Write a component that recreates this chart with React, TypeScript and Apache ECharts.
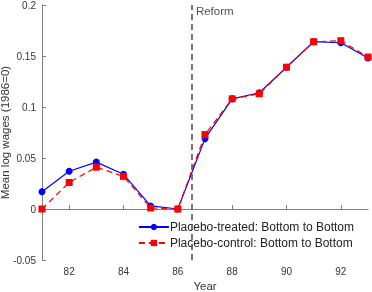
import React, { useEffect, useRef } from "react";
import * as echarts from "echarts";

const years = [81, 82, 83, 84, 85, 86, 87, 88, 89, 90, 91, 92, 93];
const treated = [0.017, 0.037, 0.046, 0.034, 0.003, 0.0, 0.069, 0.108, 0.114, 0.139, 0.164, 0.163, 0.148];
const control = [0.0, 0.026, 0.041, 0.032, 0.001, 0.0, 0.073, 0.108, 0.113, 0.139, 0.164, 0.165, 0.149];
const xTicks = [82, 84, 86, 88, 90, 92];
const reformYear = 86.5;
const seriesNames = ["Placebo-treated: Bottom to Bottom", "Placebo-control: Bottom to Bottom"];

export default function App() {
  const ref = useRef<HTMLDivElement>(null);
  useEffect(() => {
    if (!ref.current) return;
    const chart = echarts.init(ref.current, undefined, { renderer: "svg" });
    const font = "'Liberation Sans', Arial, sans-serif";
    const axisColor = "#808080";
    chart.setOption({
      animation: false,
      textStyle: { fontFamily: font },
      grid: { left: 42, right: 4, top: 5, bottom: 32, containLabel: false, outerBoundsMode: "none" },
      legend: {
        orient: "vertical",
        right: 13,
        bottom: 38,
        itemWidth: 30,
        itemHeight: 8,
        itemGap: 4,
        textStyle: { fontSize: 12, color: "#222", fontFamily: font, padding: [0, 0, 0, -4] },
        data: seriesNames,
      },
      xAxis: {
        type: "value",
        min: 81,
        max: 93,
        name: "Year",
        nameLocation: "middle",
        nameGap: 20,
        nameMoveOverlap: false,
        nameTextStyle: { fontSize: 11.5, color: "#333" },
        axisLine: { lineStyle: { color: axisColor } },
        axisTick: { inside: true, length: 4, customValues: xTicks, lineStyle: { color: axisColor } },
        axisLabel: { customValues: xTicks, fontSize: 10, color: "#333", margin: 6 },
        splitLine: { show: false },
      },
      yAxis: {
        type: "value",
        min: -0.05,
        max: 0.2,
        interval: 0.05,
        name: "Mean log wages (1986=0)",
        nameLocation: "middle",
        nameGap: 31,
        nameMoveOverlap: false,
        nameTextStyle: { fontSize: 11.5, color: "#333" },
        axisLine: { show: true, lineStyle: { color: axisColor } },
        axisTick: { show: true, inside: true, length: 4, lineStyle: { color: axisColor } },
        axisLabel: { fontSize: 10, color: "#333", margin: 6 },
        splitLine: { show: false },
      },
      series: [
        {
          name: seriesNames[0],
          type: "line",
          data: years.map((y, i) => [y, treated[i]]),
          symbol: "circle",
          symbolSize: 7,
          itemStyle: { color: "#0000ff" },
          lineStyle: { color: "#0000ff", width: 1.2 },
          z: 2,
        },
        {
          name: seriesNames[1],
          type: "line",
          data: years.map((y, i) => [y, control[i]]),
          symbol: "rect",
          symbolSize: 7,
          itemStyle: { color: "#ff0000" },
          lineStyle: { color: "#ff0000", width: 1.2, type: [6, 4] },
          z: 3,
          markLine: {
            silent: true,
            symbol: "none",
            label: { show: false },
            lineStyle: { color: "#555", width: 1.6, type: [6, 4] },
            data: [{ xAxis: reformYear }],
          },
        },
        {
          name: "reform-label",
          type: "scatter",
          data: [[reformYear, 0.2]],
          symbolSize: 1,
          itemStyle: { color: "transparent" },
          label: {
            show: true,
            formatter: "Reform",
            position: [5, 0],
            fontSize: 11.5,
            color: "#222",
            align: "left",
            verticalAlign: "top",
          },
          silent: true,
          z: 5,
        },
      ],
    });
    return () => chart.dispose();
  }, []);
  return <div ref={ref} style={{ position: "fixed", left: 0, top: 0, width: 372, height: 292 }} />;
}
